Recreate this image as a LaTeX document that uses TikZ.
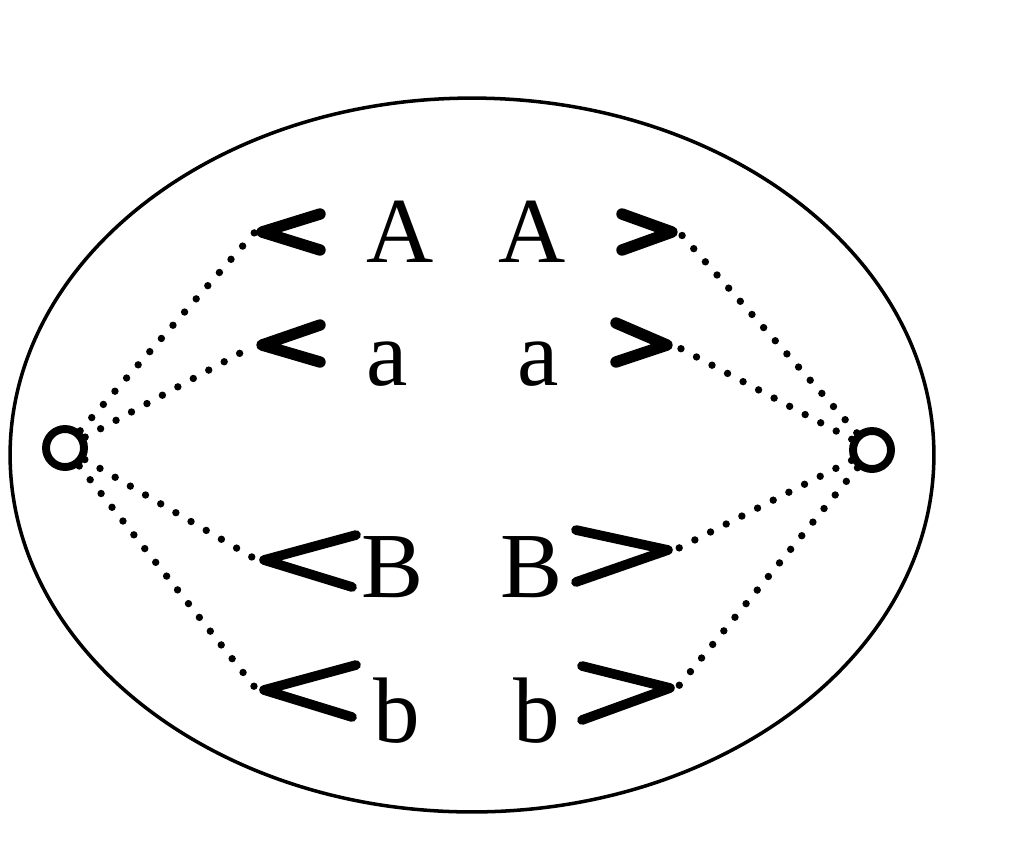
\documentclass[tikz,border=0pt]{standalone}
\usepackage{fontspec}
\setmainfont{Liberation Serif}
\usepackage{tikz}

\begin{document}
\begin{tikzpicture}
  [x=0.02cm,y=-0.02cm]
      \tikzstyle{port_style} = [draw=black, circle, line width=4.5pt, minimum size=0.76cm, inner sep=0pt]
      \tikzstyle{dot_style} = [draw=black, line width=4.2pt, line cap=round, dash pattern=on 0pt off 10pt]
      \tikzstyle{chev_style} = [draw=black, line width=6.5pt, line cap=round, line join=round]
      \tikzstyle{letter_style} = [inner sep=0pt, anchor=base, font=\fontsize{53pt}{60pt}\selectfont]
  \useasboundingbox (0,0) rectangle (1024,840);
  \draw[line width=2pt] (472,455) ellipse [x radius=9.24cm, y radius=7.14cm];
  \node[port_style] (left) at (65,448) {};
  \node[port_style] (right) at (872,450) {};
  % tips of the brackets
  \coordinate (l1) at (255,232);
  \coordinate (l2) at (255,345);
  \coordinate (l3) at (257,560);
  \coordinate (l4) at (257,690);
  \coordinate (r1) at (679,232);
  \coordinate (r2) at (674,345);
  \coordinate (r3) at (675,550);
  \coordinate (r4) at (677,688);
  \draw[chev_style] (320,214) -- (262,232) -- (320,250);
  \draw[chev_style] (622,214) -- (672,232) -- (622,250);
  \draw[chev_style] (320,325) -- (262,345) -- (320,362);
  \draw[chev_style] (616,323) -- (667,345) -- (616,362);
  \draw[chev_style, line width=5.5pt] (356,535) -- (264,560) -- (352,587);
  \draw[chev_style, line width=5.5pt] (576,530) -- (668,550) -- (576,582);
  \draw[chev_style, line width=5.5pt] (356,665) -- (264,690) -- (352,717);
  \draw[chev_style, line width=5.5pt] (582,666) -- (670,688) -- (582,720);
  \node[letter_style] (A1) at (400,262) {A};
  \node[letter_style] (A2) at (532,262) {A};
  \node[letter_style] (a1) at (387,385) {a};
  \node[letter_style] (a2) at (538,385) {a};
  \node[letter_style] (B1) at (393,597) {B};
  \node[letter_style] (B2) at (532,597) {B};
  \node[letter_style] (b1) at (397,742) {b};
  \node[letter_style] (b2) at (537,742) {b};
  \foreach \i in {1,2,3,4} {
    \draw[dot_style] (left) -- (l\i);
    \draw[dot_style] (right) -- (r\i);
  }
\end{tikzpicture}
\end{document}
